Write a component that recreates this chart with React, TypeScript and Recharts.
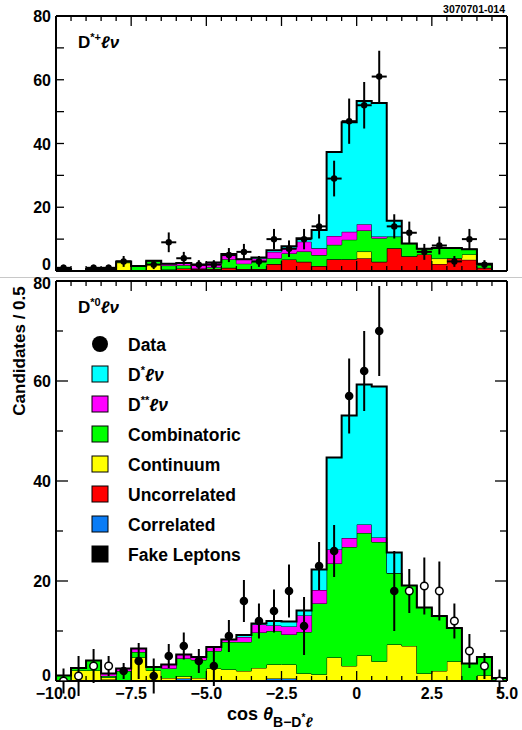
import React from 'react';
import { ComposedChart, Area, Scatter, XAxis, YAxis, ErrorBar } from 'recharts';

const FONT = '"Liberation Sans", Arial, Helvetica, sans-serif';

// lower edges of the 0.5-wide bins
const binLow = [-10, -9.5, -9, -8.5, -8, -7.5, -7, -6.5, -6, -5.5, -5, -4.5, -4, -3.5, -3, -2.5, -2, -1.5, -1, -0.5, 0, 0.5, 1, 1.5, 2, 2.5, 3, 3.5, 4, 4.5];
const xTicks = [-10, -9.5, -9, -8.5, -8, -7.5, -7, -6.5, -6, -5.5, -5, -4.5, -4, -3.5, -3, -2.5, -2, -1.5, -1, -0.5, 0, 0.5, 1, 1.5, 2, 2.5, 3, 3.5, 4, 4.5, 5];
const yTicks = [0, 10, 20, 30, 40, 50, 60, 70, 80];

// stack order, bottom to top
const COMPONENTS = [
  { key: 'fake', name: 'Fake Leptons', color: '#000000' },
  { key: 'corr', name: 'Correlated', color: '#0a7cf5' },
  { key: 'uncorr', name: 'Uncorrelated', color: '#ff0000' },
  { key: 'cont', name: 'Continuum', color: '#ffff00' },
  { key: 'comb', name: 'Combinatoric', color: '#00ff00' },
  { key: 'dss', name: 'D**lv', color: '#ff00ff' },
  { key: 'ds', name: 'D*lv', color: '#00ffff' },
];

// ---- D*+ l nu (top panel)
const dpFake = [0, 0, 0, 0, 0, 0, 0, 0, 0, 0, 0, 0, 0, 0, 0, 0, 0, 0, 0, 0, 0, 0, 0, 0, 0, 0, 0, 0, 0, 0];
const dpCorr = [0, 0, 0, 0, 0, 0, 0, 0, 0, 0, 0, 0, 0, 0, 0, 0, 0, 0, 0, 0, 0, 0, 0, 0, 0, 0, 0, 0, 0, 0];
const dpUncorr = [0, 0, 0, 0, 0, 0, 0, 0.5, 0.8, 0.6, 0.6, 1.0, 0.6, 0.6, 2.2, 3.6, 2.9, 1.6, 3.7, 3.7, 4.0, 2.9, 7.1, 4.6, 5.2, 2.2, 4.0, 3.5, 1.0, 0];
const dpCont = [0, 0, 0, 0, 2.6, 0.2, 2.2, 0, 0, 0, 0, 0, 0, 0, 0, 0, 0, 0, 0, 0, 2.1, 0, 0, 0, 0, 1.7, 0, 1.7, 0, 0];
const dpComb = [0.6, 0, 0.6, 0.6, 0.4, 1.4, 1.0, 1.2, 1.0, 0.2, 0.6, 2.7, 1.7, 2.3, 1.8, 1.9, 3.2, 3.4, 4.5, 6.1, 6.6, 7.4, 3.7, 4.0, 1.8, 3.3, 3.2, 1.6, 1.3, 0];
const dpDss = [0, 0, 0, 0, 0, 0, 0, 0.6, 0.7, 1.2, 1.5, 1.6, 1.4, 1.0, 2.0, 1.5, 3.1, 2.1, 2.8, 2.5, 2.0, 0.5, 0, 0, 0, 0, 0, 0, 0, 0];
const dpDs = [0, 0, 0, 0, 0, 0, 0, 0, 0, 0, 0, 0, 0, 0.3, 0.5, 0.8, 1.1, 5.8, 26.3, 34.4, 38.6, 41.9, 5.0, 0, 0, 0, 0, 0, 0, 0];
const dpData = [1, null, 1, 1, 3, null, 2, 9, 4, 2, 2, 5, 6, 3, 10, 7, 10, 14, 29, 47, 52, 61, 14, 12, 6, 8, 3, 10, 2, null];
const dpErr = [1.0, 0, 1.0, 1.0, 1.7, 0, 1.4, 3.1, 2.0, 1.4, 1.4, 2.2, 2.5, 1.7, 3.2, 2.6, 3.2, 3.8, 5.6, 7.1, 7.3, 8.1, 3.8, 3.5, 2.5, 2.8, 1.7, 3.2, 1.4, 0];

// ---- D*0 l nu (bottom panel)
const d0Fake = [0, 0, 0, 0.3, 0, 0, 0, 0, 0, 0, 0, 0, 0, 0, 0, 0, 0, 0, 0, 0, 0, 0, 0, 0, 0, 0, 0, 0.2, 0, 0];
const d0Corr = [0, 0, 0, 0, 0, 0, 0, 0, 0.5, 0, 0, 0, 0, 0, 0.5, 0.5, 0, 0, 0, 0, 0, 0, 0, 0, 0, 0, 0, 0, 0, 0];
const d0Uncorr = [0, 0, 0, 0, 0, 0, 0, 0, 0, 0, 0, 0, 0, 0, 0, 0, 0, 0, 0, 0, 0, 0, 0, 0, 0, 0, 0, 0, 0, 0];
const d0Cont = [0, 2.1, 2.1, 0.4, 0, 4.7, 2.1, 0.6, 0.4, 0.6, 2.5, 2.3, 2.0, 2.6, 2.8, 2.8, 1.5, 1.3, 4.7, 3.0, 5.1, 3.9, 7.3, 7.0, 1.5, 2.0, 3.9, 0, 1.1, 0];
const d0Comb = [1.1, 0.5, 2.0, 0.3, 2.0, 1.1, 0.7, 1.9, 3.6, 3.6, 3.5, 5.5, 5.8, 7.1, 6.7, 6.0, 8.3, 14.2, 18.8, 23.8, 24.5, 23.9, 14.3, 12.1, 13.2, 11.0, 6.7, 3.3, 3.7, 0.6];
const d0Dss = [0, 0, 0, 0.5, 0.5, 0.7, 0, 0.8, 0.8, 0.6, 0.8, 0.5, 1.0, 1.6, 1.1, 1.6, 3.3, 2.7, 2.8, 1.8, 1.7, 0.9, 0, 0, 0, 0, 0, 0, 0, 0];
const d0Ds = [0, 0, 0, 0, 0, 0, 0, 0, 0, 0, 0, 0, 0.4, 0.2, 0.9, 1.0, 1.0, 4.1, 18.4, 24.5, 28.0, 30.2, 4.1, 0, 0, 0, 0, 0, 0, 0];
const d0Data = [null, null, null, null, 2, 4, 1, 5, 7, 4, 3, 9, 16, 12, 14, 18, 11, 23, 26, 57, 62, 70, 18, null, null, null, null, null, null, null];
const d0Open = [0, 1, 3, 3, null, null, null, null, null, null, null, null, null, null, null, null, null, null, null, null, null, null, null, 18, 19, 18, 12, 6, 3, 0];
const d0Err = [2.5, 4.0, 3.4, 2.0, 1.6, 3.6, 3.5, 2.4, 2.7, 2.4, 4.0, 3.2, 4.2, 3.5, 4.3, 5.3, 5.8, 4.8, 5.2, 7.5, 8.0, 9.0, 8.0, 4.4, 5.7, 5.9, 3.5, 3.4, 2.6, 2.3];

const legendRows = [
  { name: 'Data', color: null },
  { name: 'D*lv', color: '#00ffff' },
  { name: 'D**lv', color: '#ff00ff' },
  { name: 'Combinatoric', color: '#00ff00' },
  { name: 'Continuum', color: '#ffff00' },
  { name: 'Uncorrelated', color: '#ff0000' },
  { name: 'Correlated', color: '#0a7cf5' },
  { name: 'Fake Leptons', color: '#000000' },
];

// histogram edges for a step area: last edge repeats the last bin
const buildEdges = (parts: Record<string, number[]>) =>
  xTicks.map((x, i) => {
    const k = Math.min(i, binLow.length - 1);
    const row: any = { x };
    COMPONENTS.forEach((c) => {
      row[c.key] = parts[c.key][k];
    });
    return row;
  });

const buildPoints = (vals: (number | null)[], errs: number[]) =>
  binLow
    .map((lo, i) => ({ x: lo + 0.25, y: vals[i], ey: errs[i], ex: 0.25 }))
    .filter((p) => p.y !== null);

const topEdges = buildEdges({ fake: dpFake, corr: dpCorr, uncorr: dpUncorr, cont: dpCont, comb: dpComb, dss: dpDss, ds: dpDs });
const botEdges = buildEdges({ fake: d0Fake, corr: d0Corr, uncorr: d0Uncorr, cont: d0Cont, comb: d0Comb, dss: d0Dss, ds: d0Ds });
const topPoints = buildPoints(dpData, dpErr);
const botPoints = buildPoints(d0Data, d0Err);
const botOpen = buildPoints(d0Open, d0Err);

const fmtX = (v: number) => (v === 0 ? '0' : (v < 0 ? '\u2212' : '') + Math.abs(v).toFixed(1));

const XTick = (p: any) => {
  const v = p.payload.value;
  const major = Math.abs(v / 2.5 - Math.round(v / 2.5)) < 1e-6;
  const len = major ? 10 : 5;
  return (
    <g>
      <line x1={p.x} x2={p.x} y1={p.y} y2={p.y + p.dir * len} stroke="#000" strokeWidth={1.3} />
      {p.showLabel && major && (
        <text x={p.x} y={p.y + 18} textAnchor="middle" fontFamily={FONT} fontWeight="bold" fontSize={16} fill="#000">
          {fmtX(v)}
        </text>
      )}
    </g>
  );
};

const YTick = (p: any) => {
  const v = p.payload.value;
  const major = v % 20 === 0;
  const len = p.small ? 8 : major ? 12 : 7;
  let shift = 0;
  if (p.nudge && v === 0) shift = p.nudge.zero;
  if (p.nudge && v === 80) shift = p.nudge.top;
  return (
    <g>
      <line x1={p.x} x2={p.x + p.dir * len} y1={p.y} y2={p.y} stroke="#000" strokeWidth={1.3} />
      {p.showLabel && major && (
        <text x={p.x - 5} y={p.y + 6 + shift} textAnchor="end" fontFamily={FONT} fontWeight="bold" fontSize={16} fill="#000">
          {v}
        </text>
      )}
    </g>
  );
};

const Panel = ({ height, marginTop, marginBottom, bottomAxisHeight, edges, filled, open, dotR, showXLabels, xErr, smallTicks, nudge }: any) => (
  <ComposedChart width={522} height={height} data={edges} margin={{ top: marginTop, right: 0, bottom: marginBottom, left: 0 }}>
    <XAxis xAxisId="b" dataKey="x" type="number" domain={[-10, 5]} ticks={xTicks} interval={0} allowDataOverflow height={bottomAxisHeight}
      tickSize={0} tickMargin={0} tickLine={false} axisLine={{ stroke: '#000', strokeWidth: 2 }}
      tick={(p: any) => <XTick {...p} dir={-1} showLabel={showXLabels} />} />
    <XAxis xAxisId="t" dataKey="x" orientation="top" type="number" domain={[-10, 5]} ticks={xTicks} interval={0} allowDataOverflow height={1}
      tickSize={0} tickMargin={0} tickLine={false} axisLine={{ stroke: '#000', strokeWidth: 2 }}
      tick={(p: any) => <XTick {...p} dir={1} showLabel={false} />} />
    <YAxis yAxisId="l" type="number" domain={[0, 80]} ticks={yTicks} interval={0} allowDataOverflow width={56}
      tickSize={0} tickMargin={0} tickLine={false} axisLine={{ stroke: '#000', strokeWidth: 2 }}
      tick={(p: any) => <YTick {...p} dir={1} showLabel small={smallTicks} nudge={nudge} />} />
    <YAxis yAxisId="r" orientation="right" type="number" domain={[0, 80]} ticks={yTicks} interval={0} allowDataOverflow width={15}
      tickSize={0} tickMargin={0} tickLine={false} axisLine={{ stroke: '#000', strokeWidth: 2 }}
      tick={(p: any) => <YTick {...p} dir={-1} showLabel={false} small={smallTicks} />} />
    {COMPONENTS.map((c) => (
      <Area key={c.key} xAxisId="b" yAxisId="l" dataKey={c.key} stackId="s" type="stepAfter" fill={c.color} fillOpacity={1}
        stroke="#000" strokeWidth={c.key === 'ds' ? 2 : 1} isAnimationActive={false} dot={false} activeDot={false} />
    ))}
    {/* invisible series that ties the top and right frame axes to the chart */}
    <Scatter xAxisId="t" yAxisId="r" data={filled} dataKey="y" isAnimationActive={false} legendType="none" shape={() => <g />} />
    <Scatter xAxisId="b" yAxisId="l" data={filled} dataKey="y" isAnimationActive={false}
      shape={(s: any) => <circle cx={s.cx} cy={s.cy} r={dotR} fill="#000" />}>
      <ErrorBar dataKey="ey" direction="y" width={0} stroke="#000" strokeWidth={2} />
      {xErr && <ErrorBar dataKey="ex" direction="x" width={0} stroke="#000" strokeWidth={2} />}
    </Scatter>
    {open && (
      <Scatter xAxisId="b" yAxisId="l" data={open} dataKey="y" isAnimationActive={false}
        shape={(s: any) => <circle cx={s.cx} cy={s.cy} r={dotR - 0.5} fill="#fff" stroke="#000" strokeWidth={1.5} />}>
        <ErrorBar dataKey="ey" direction="y" width={0} stroke="#000" strokeWidth={2} />
      </Scatter>
    )}
  </ComposedChart>
);

export default function App() {
  return (
    <div style={{ position: 'absolute', left: 0, top: 0, width: 522, height: 730, background: '#fff', fontFamily: FONT }}>
      <div style={{ position: 'absolute', left: 0, top: 0 }}>
        <Panel height={281} marginTop={15} marginBottom={0} bottomAxisHeight={10} edges={topEdges} filled={topPoints}
          dotR={3.2} showXLabels={false} xErr smallTicks nudge={{ zero: -7, top: 0 }} />
      </div>
      <div style={{ position: 'absolute', left: 0, top: 277, width: 522, height: 1, background: '#c8c8c8' }} />
      <div style={{ position: 'absolute', left: 0, top: 270 }}>
        <Panel height={460} marginTop={10} marginBottom={19} bottomAxisHeight={30} edges={botEdges} filled={botPoints} open={botOpen}
          dotR={4.3} showXLabels xErr={false} nudge={{ zero: -6, top: 2 }} />
      </div>
      <svg width={522} height={730} style={{ position: 'absolute', left: 0, top: 0, pointerEvents: 'none' }} fontFamily={FONT}>
        <text x={505} y={13} textAnchor="end" fontSize={10.5} fontWeight="bold">3070701-014</text>
        <text x={78} y={48} fontSize={17} fontWeight="bold">
          D<tspan fontSize={11} dy={-7}>*+</tspan><tspan fontStyle="italic" dy={7}>ℓν</tspan>
        </text>
        <text x={78} y={313} fontSize={17} fontWeight="bold">
          D<tspan fontSize={11} dy={-7}>*0</tspan><tspan fontStyle="italic" dy={7}>ℓν</tspan>
        </text>
        {legendRows.map((r, i) => {
          const cy = 344 + i * 30;
          return (
            <g key={r.name}>
              {r.color === null ? (
                <circle cx={100} cy={cy} r={8} fill="#000" />
              ) : (
                <rect x={92} y={cy - 8} width={16} height={16} fill={r.color} stroke="#000" strokeWidth={1} />
              )}
              <text x={128} y={cy + 6.5} fontSize={17.5} fontWeight="bold">
                {r.name === 'D*lv' ? (
                  <>D<tspan fontSize={11} dy={-7}>*</tspan><tspan fontStyle="italic" dy={7}>ℓν</tspan></>
                ) : r.name === 'D**lv' ? (
                  <>D<tspan fontSize={11} dy={-7}>**</tspan><tspan fontStyle="italic" dy={7}>ℓν</tspan></>
                ) : (
                  r.name
                )}
              </text>
            </g>
          );
        })}
        <text transform="translate(25,351) rotate(-90)" textAnchor="middle" fontSize={17} fontWeight="bold">Candidates / 0.5</text>
        <text x={227} y={720} fontSize={18} fontWeight="bold">
          cos <tspan fontStyle="italic">θ</tspan><tspan fontSize={14} dy={7}>B−D</tspan><tspan fontSize={10} dy={-6}>*</tspan><tspan fontSize={14} fontStyle="italic" dy={6}>ℓ</tspan>
        </text>
      </svg>
    </div>
  );
}
